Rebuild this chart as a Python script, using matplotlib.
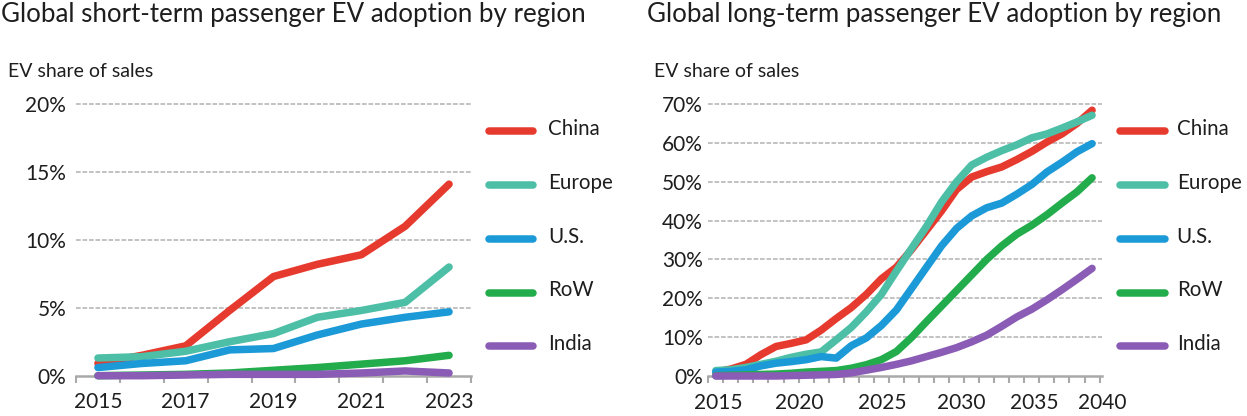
import matplotlib
matplotlib.use("Agg")
import matplotlib.pyplot as plt
from matplotlib.lines import Line2D

plt.rcParams['font.family'] = ['Lato', 'DejaVu Sans']

# ---------------- data ----------------
series_names = ["China", "Europe", "U.S.", "RoW", "India"]
series_colors = ["#e63a2e", "#4cbfa6", "#1b9ad7", "#23ac4c", "#8b5cb5"]

short_years = [2015, 2016, 2017, 2018, 2019, 2020, 2021, 2022, 2023]
short_china = [0.9, 1.5, 2.2, 4.8, 7.3, 8.2, 8.9, 11.0, 14.1]
short_europe = [1.3, 1.4, 1.8, 2.5, 3.1, 4.3, 4.8, 5.4, 8.0]
short_us = [0.6, 0.9, 1.1, 1.9, 2.0, 3.0, 3.8, 4.3, 4.7]
short_row = [0.0, 0.05, 0.1, 0.2, 0.4, 0.6, 0.85, 1.1, 1.5]
short_india = [0.0, 0.0, 0.05, 0.1, 0.1, 0.1, 0.2, 0.35, 0.2]

long_years = list(range(2015, 2041))
long_china = [1.0, 1.8, 3.0, 5.5, 7.6, 8.4, 9.3, 11.8, 14.8, 17.6, 21.0, 25.0, 28.0,
              32.5, 37.5, 42.5, 48.0, 51.2, 52.6, 53.8, 55.7, 57.8, 60.2, 62.3, 65.0, 68.4]
long_europe = [1.4, 1.6, 2.2, 3.0, 3.8, 4.8, 5.6, 6.2, 9.3, 12.5, 16.5, 21.0, 27.0,
               32.8, 38.5, 44.8, 50.0, 54.3, 56.3, 58.0, 59.5, 61.3, 62.3, 63.8, 65.4, 67.1]
long_us = [1.0, 1.2, 1.6, 2.6, 3.3, 3.7, 4.2, 5.0, 4.6, 7.8, 9.8, 13.0, 17.0,
           22.5, 28.0, 33.5, 38.0, 41.2, 43.3, 44.5, 46.8, 49.3, 52.5, 55.0, 57.7, 59.8]
long_row = [0.1, 0.2, 0.3, 0.4, 0.5, 0.7, 1.0, 1.2, 1.4, 2.0, 2.9, 4.2, 6.3,
            9.9, 14.0, 18.0, 22.0, 26.0, 30.0, 33.5, 36.5, 38.8, 41.5, 44.5, 47.4, 51.0]
long_india = [0.0, 0.0, 0.0, 0.0, 0.0, 0.1, 0.2, 0.3, 0.4, 0.8, 1.5, 2.2, 3.0,
              3.9, 5.0, 6.1, 7.3, 8.8, 10.5, 12.8, 15.2, 17.2, 19.6, 22.2, 24.9, 27.7]

short_xlabels = ["2015", "2017", "2019", "2021", "2023"]
short_xlabel_pos = [2015, 2017, 2019, 2021, 2023]
long_xlabels = ["2015", "2020", "2025", "2030", "2035", "2040"]
long_xlabel_pos = [2015.16, 2020.55, 2026.05, 2031.33, 2036.18, 2040.68]

short_yticks = [0, 5, 10, 15, 20]
long_yticks = [0, 10, 20, 30, 40, 50, 60, 70]

titles = ["Global short-term passenger EV adoption by region",
          "Global long-term passenger EV adoption by region"]
subtitle = "EV share of sales"

# ---------------- layout ----------------
W, H = 1247, 416
fig = plt.figure(figsize=(W / 100, H / 100), dpi=100)


def fx(x):
    return x / W


def fy(y):
    return 1 - y / H


TXT = "#1e1e1e"
GRID = "#bdbdbd"
AXC = "#a9a9a9"
LW = 5.4
TICK_FS = 15
LEG_FS = 14.8

ax1 = fig.add_axes([fx(76), fy(375.7), fx(471) - fx(76), fy(104) - fy(375.7)])
ax2 = fig.add_axes([fx(708.3), fy(376), fx(1102.3) - fx(708.3), fy(104) - fy(376)])

short_series = [short_china, short_europe, short_us, short_row, short_india]
long_series = [long_china, long_europe, long_us, long_row, long_india]

configs = [
    (ax1, short_years, short_series, short_yticks, short_xlabel_pos, short_xlabels, 7),
    (ax2, long_years, long_series, long_yticks, long_xlabel_pos, long_xlabels, 4),
]

for ax, years, series, yticks, xpos, xlabs, ypad in configs:
    for s in ["top", "right", "left"]:
        ax.spines[s].set_visible(False)
    ax.spines["bottom"].set_color(AXC)
    ax.spines["bottom"].set_linewidth(1.8)
    ax.spines["bottom"].set_zorder(1)
    ax.set_xlim(years[0] - 0.5, years[-1] + 0.5)
    ax.set_ylim(yticks[0], yticks[-1])
    for t in yticks[1:]:
        ax.axhline(t, color=GRID, lw=1.3, ls=(0, (2.6, 1.0)), zorder=0, clip_on=False)
    ax.set_yticks(yticks)
    ax.set_yticklabels([f"{t}%" for t in yticks])
    ax.tick_params(axis="y", length=0, pad=ypad, labelsize=TICK_FS, labelcolor=TXT)
    ax.set_xticks(xpos)
    ax.set_xticklabels(xlabs)
    ax.tick_params(axis="x", which="major", length=0, pad=12, labelsize=TICK_FS,
                   labelcolor=TXT)
    bounds = [y - 0.5 for y in years] + [years[-1] + 0.5]
    ax.set_xticks(bounds, minor=True)
    ax.tick_params(axis="x", which="minor", length=4.8, width=1.5, color=AXC,
                   direction="out")
    for vals, col in zip(series, series_colors):
        ax.plot(years, vals, color=col, lw=LW, solid_capstyle="round",
                solid_joinstyle="round", clip_on=False, zorder=3)

# legends (drawn manually to match spacing)
legend_rows = [131, 185, 239.3, 292.7, 346]
for (x0, x1, xt) in [(488.8, 533.3, 548.3), (1119.8, 1164.5, 1176.7)]:
    for name, col, yy in zip(series_names, series_colors, legend_rows):
        fig.add_artist(Line2D([fx(x0), fx(x1)], [fy(yy), fy(yy)], color=col, lw=LW,
                              solid_capstyle="round", transform=fig.transFigure))
        fig.text(fx(xt), fy(yy + 3.6), name, fontsize=LEG_FS, color=TXT,
                 ha="left", va="baseline")

# titles
for xt, title in zip([1, 647], titles):
    fig.text(fx(xt), fy(22), title, fontsize=18.6, color=TXT, ha="left",
             va="baseline")
    fig.text(fx(xt + 7), fy(77), subtitle, fontsize=14, color=TXT, ha="left",
             va="baseline")

fig.savefig("out.png", dpi=100, facecolor="white")
